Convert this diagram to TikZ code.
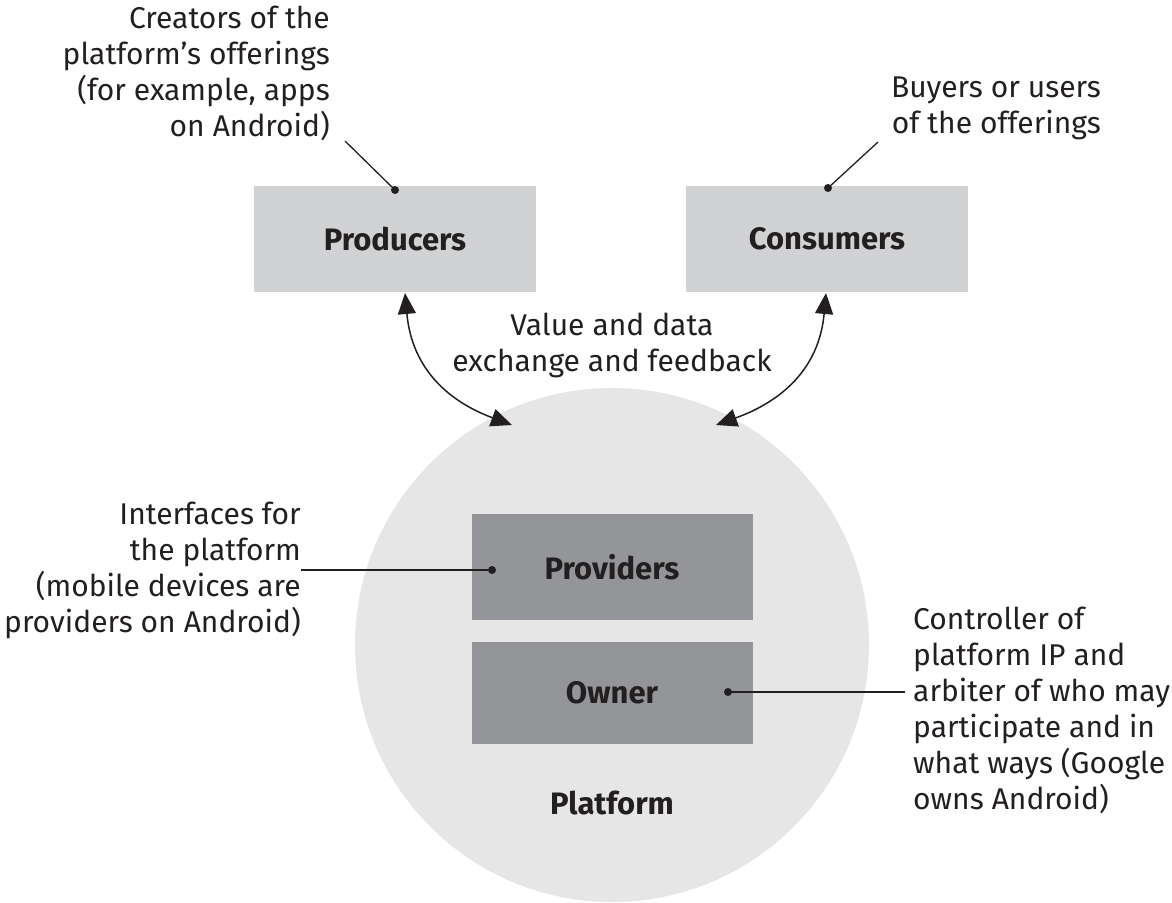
\documentclass[tikz,border=0pt]{standalone}
\usepackage{fontspec}
\setmainfont{Fira Sans}
\usetikzlibrary{arrows.meta}
\definecolor{txt}{HTML}{231F20}
\definecolor{lightbox}{HTML}{D1D2D4}
\definecolor{circ}{HTML}{E6E6E6}
\definecolor{darkbox}{HTML}{939598}
\tikzset{
  boldlbl/.style={font=\bfseries\fontsize{31}{36}\selectfont, text=txt},
  outerbox/.style={boldlbl, fill=lightbox, draw=none, minimum width=282pt, minimum height=106pt, inner sep=0pt},
  innerbox/.style={boldlbl, fill=darkbox, draw=none, minimum width=281pt, inner sep=0pt},
  note/.style={font=\fontsize{30}{36}\selectfont, text=txt, inner sep=0pt},
  leader/.style={draw=txt, line width=1.3pt},
  dotc/.style={circle, fill=txt, inner sep=0pt, minimum size=8pt},
  flow/.style={draw=txt, line width=1.5pt, {Triangle[length=21pt,width=18pt]}-{Triangle[length=21pt,width=18pt]}}
}
\begin{document}
\begin{tikzpicture}[x=1pt,y=-1pt]
\useasboundingbox (0,0) rectangle (1172,902);
\begin{scope}
\clip (0,0) rectangle (1172,902);
\fill[circ] (612,645) circle (257);
\end{scope}
\node[outerbox] (prod) at (395,239) {Producers};
\node[outerbox] (cons) at (827,239) {Consumers};
\node[innerbox, minimum height=106pt] (prov) at (612,567) {Providers};
\node[innerbox, minimum height=102pt] (own) at (612,693) {Owner};
\node[boldlbl] (plat) at (612,803) {Platform};
\node[note, align=center] (value) at (612,345) {Value and data\\exchange and feedback};

\coordinate (ptop) at (405,293);
\coordinate (pend) at (512,425);
\coordinate (ctop) at (826,293);
\coordinate (cend) at (716,425);
\draw[flow] (ptop) .. controls (412,370) and (450,402) .. (pend);
\draw[flow] (ctop) .. controls (819,370) and (780,402) .. (cend);

\node[note, align=right, anchor=east] (creators) at (330,73) {Creators of the\\platform’s offerings\\(for example, apps\\on Android)};
\node[note, align=right, anchor=east] (buyers) at (1101,108) {Buyers or users\\of the offerings};
\node[note, align=right, anchor=east] (interf) at (301,570) {Interfaces for\\the platform\\(mobile devices are\\providers on Android)};
\node[note, align=left, anchor=west] (ctrl) at (913,710) {Controller of\\platform IP and\\arbiter of who may\\participate and in\\what ways (Google\\owns Android)};

\node[dotc] (d1) at (395,190) {};
\node[dotc] (d2) at (828,188) {};
\node[dotc] (d3) at (492,570) {};
\node[dotc] (d4) at (728,692) {};
\coordinate (l1) at (345,141);
\coordinate (l2) at (878,142);
\coordinate (l3) at (301,570);
\coordinate (l4) at (905,692);
\draw[leader] (l1) -- (d1.center);
\draw[leader] (l2) -- (d2.center);
\draw[leader] (l3) -- (d3.center);
\draw[leader] (l4) -- (d4.center);
\end{tikzpicture}
\end{document}
